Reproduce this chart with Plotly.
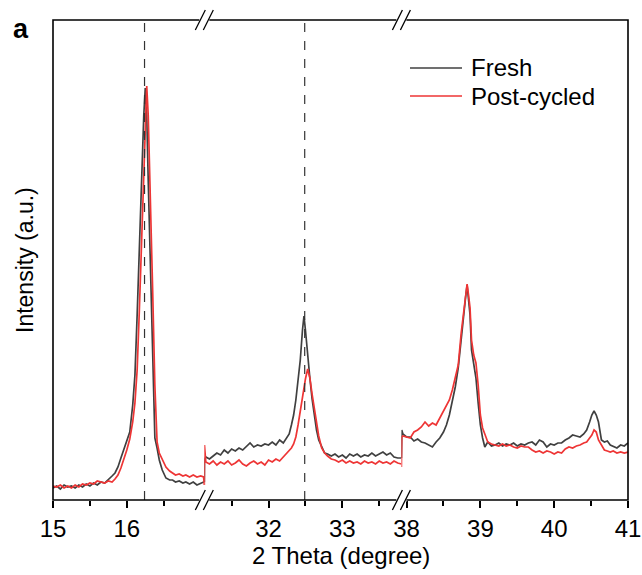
import plotly.graph_objects as go

# ---------------- data (intensity in a.u.) ----------------
X1 = [15.00, 15.05, 15.10, 15.15, 15.20, 15.25, 15.30, 15.35, 15.40, 15.45, 15.50, 15.55,
      15.60, 15.65, 15.70, 15.75, 15.80, 15.84, 15.88, 15.92, 15.96, 16.00, 16.04, 16.08,
      16.11, 16.14, 16.17, 16.20, 16.23, 16.25, 16.27, 16.29, 16.32, 16.35, 16.38, 16.41,
      16.44, 16.48, 16.53, 16.58, 16.62, 16.66, 16.71, 16.76, 16.80, 16.85, 16.90, 16.95,
      17.00, 17.04, 17.05]
FRESH_1 = [12, 14, 11, 15, 13, 14, 12, 15, 13, 16, 14, 17, 15, 18, 17, 21, 24,
           27, 33, 42, 50, 58, 68, 95,
           125, 185, 255, 320, 385, 412, 385, 320, 230, 130, 62, 52, 40,
           30, 22, 20, 20, 18, 19, 17, 18, 16, 18, 15, 17, 18, 18]
POST_1 = [14, 13, 15, 12, 14, 12, 15, 13, 16, 15, 17, 16, 19, 18, 17, 19, 18,
          21, 25, 32, 40, 50, 61, 78,
          97, 130, 190, 255, 330, 385, 414, 385, 305, 210, 115, 58, 47,
          40, 33, 29, 27, 25, 26, 24, 25, 23, 25, 23, 24, 23, 15]

X2 = [31.13, 31.132, 31.15, 31.20, 31.25, 31.30, 31.35, 31.40, 31.45, 31.50, 31.55, 31.60,
      31.65, 31.70, 31.75, 31.80, 31.85, 31.90, 31.95, 32.00, 32.05, 32.10, 32.15, 32.20,
      32.24, 32.28, 32.31, 32.34, 32.37, 32.40, 32.43, 32.46, 32.48, 32.50, 32.53, 32.56,
      32.59, 32.62, 32.65, 32.68, 32.72, 32.76, 32.80, 32.85, 32.90, 32.95, 33.00, 33.05,
      33.10, 33.15, 33.20, 33.25, 33.30, 33.35, 33.40, 33.45, 33.50, 33.55, 33.60, 33.65,
      33.70, 33.75, 33.80]
FRESH_2 = [18, 40, 43,
           41, 44, 47, 45, 50, 47, 51, 49, 52, 50, 54, 57, 53, 55, 54, 56, 55, 58, 55, 60, 57,
           62, 66, 75, 85, 100, 118, 140, 170, 184, 170, 143, 122, 101, 83, 70, 60, 53, 47, 46,
           44, 46, 43, 45, 42, 46, 44, 46, 43, 45, 44, 47, 44, 46, 48, 45, 47, 43, 42, 42]
POST_2 = [15, 55, 38,
          36, 39, 35, 38, 36, 39, 35, 37, 40, 36, 34, 37, 39, 36, 38, 35, 40, 38, 41, 39, 43,
          46, 49, 52, 56, 63, 75, 89, 104, 114, 121, 131, 122, 106, 93, 78, 64, 52, 47, 44,
          41, 40, 38, 40, 37, 39, 37, 38, 36, 39, 37, 38, 36, 39, 37, 38, 36, 39, 37, 36]

X3 = [37.93, 37.935, 37.95, 38.00, 38.05, 38.10, 38.15, 38.20, 38.25, 38.30, 38.35, 38.40,
      38.45, 38.50, 38.54, 38.58, 38.62, 38.66, 38.70, 38.74, 38.77, 38.80, 38.82, 38.84,
      38.86, 38.88, 38.91, 38.94, 38.97, 39.00, 39.03, 39.06, 39.10, 39.15, 39.20, 39.25,
      39.30, 39.35, 39.40, 39.45, 39.50, 39.55, 39.60, 39.65, 39.70, 39.75, 39.80, 39.85,
      39.90, 39.95, 40.00, 40.05, 40.10, 40.15, 40.20, 40.25, 40.30, 40.35, 40.40, 40.44,
      40.48, 40.51, 40.54, 40.57, 40.60, 40.64, 40.68, 40.72, 40.76, 40.80, 40.85, 40.90,
      40.95, 41.00]
FRESH_3 = [42, 70, 66,
           63, 63, 59, 61, 58, 57, 55, 53, 58, 62, 68,
           75, 85, 100, 113, 132, 163, 183, 203, 215, 203, 185, 150, 138, 122, 97, 75, 62, 53,
           58, 54, 55, 57, 54, 56, 55, 57, 54, 56, 55, 57, 58, 55, 60, 58, 53, 56, 55, 57, 57,
           60, 62, 65, 64, 63, 66,
           70, 78, 85, 89, 85, 78, 60, 58, 59, 55, 54, 52, 55, 54, 57]
POST_3 = [33, 63, 64,
          63, 62, 68, 70, 73, 78, 74, 77, 75, 82, 90,
          95, 100, 110, 122, 135, 167, 188, 205, 216, 205, 192, 160, 145, 137, 115, 85, 72, 66,
          58, 56, 55, 54, 56, 54, 55, 53, 52, 54, 53, 53, 50, 48, 49, 47, 49, 48, 46, 48, 47,
          51, 53, 52, 54, 55, 57,
          58, 62, 65, 70, 68, 60, 55, 50, 49, 48, 49, 47, 48, 47, 48]

SEGMENT_RANGES = [[15.0, 17.05], [31.13, 33.80], [37.93, 41.0]]
MAJOR_TICKS = [[15, 16], [32, 33], [38, 39, 40, 41]]
MINOR_TICKS = [[15.5, 16.5], [31.5, 32.5, 33.5], [38.5, 39.5, 40.5]]
REF_LINES = [16.24, 32.49]
SERIES_NAMES = ["Fresh", "Post-cycled"]
X_TITLE = "2 Theta (degree)"
Y_TITLE = "Intensity (a.u.)"
PANEL = "a"

# ---------------- style ----------------
W, H = 642, 575
ML, MR, MT, MB = 53, 14, 20, 75
PW, PH = W - ML - MR, H - MT - MB
GRAY = "#404040"
RED = "#ee3535"
FONT = "Arial, Liberation Sans, sans-serif"
FS = 24

def px(dx):
    return dx / PW

def py(dy):
    return dy / PH

spans = [r[1] - r[0] for r in SEGMENT_RANGES]
tot = sum(spans)
bounds = [0.0]
for s in spans:
    bounds.append(bounds[-1] + s / tot)
bounds[-1] = 1.0

fig = go.Figure()
xs = [X1, X2, X3]
fresh = [FRESH_1, FRESH_2, FRESH_3]
post = [POST_1, POST_2, POST_3]
axnames = ["x", "x2", "x3"]
for i in range(3):
    fig.add_trace(go.Scatter(x=xs[i], y=fresh[i], mode="lines", xaxis=axnames[i], yaxis="y",
                             line=dict(color=GRAY, width=1.7), name=SERIES_NAMES[0],
                             showlegend=False))
for i in range(3):
    fig.add_trace(go.Scatter(x=xs[i], y=post[i], mode="lines", xaxis=axnames[i], yaxis="y",
                             line=dict(color=RED, width=1.7), name=SERIES_NAMES[1],
                             showlegend=False))

def xaxis_cfg(i):
    return dict(domain=[bounds[i], bounds[i + 1]], range=SEGMENT_RANGES[i], anchor="y",
                showline=False, showgrid=False, zeroline=False,
                tickmode="array", tickvals=MAJOR_TICKS[i],
                ticktext=[str(v) for v in MAJOR_TICKS[i]],
                ticks="outside", ticklen=7, tickwidth=1.5, tickcolor="black",
                minor=dict(tickmode="array", tickvals=MINOR_TICKS[i], ticks="outside",
                           ticklen=5, tickwidth=1.5, tickcolor="black", showgrid=False),
                tickfont=dict(family=FONT, size=FS, color="black"))

fig.update_layout(
    width=W, height=H, margin=dict(l=ML, r=MR, t=MT, b=MB, autoexpand=False),
    paper_bgcolor="white", plot_bgcolor="white", showlegend=False,
    xaxis=xaxis_cfg(0), xaxis2=xaxis_cfg(1), xaxis3=xaxis_cfg(2),
    yaxis=dict(range=[0, 480], showticklabels=False, ticks="", showgrid=False,
               zeroline=False, showline=False),
)

shapes = []
for xv, ax in zip(REF_LINES, ["x", "x2"]):
    shapes.append(dict(type="line", xref=ax, yref="paper", x0=xv, x1=xv, y0=0, y1=1,
                       line=dict(color="#333333", width=1.2, dash="dash"), layer="above"))
shapes.append(dict(type="rect", xref="paper", yref="paper", x0=0, x1=1, y0=0, y1=1,
                   line=dict(color="black", width=1.6), layer="above"))
for b in bounds[1:-1]:
    for yv in (0, 1):
        shapes.append(dict(type="line", xref="paper", yref="paper",
                           x0=b - px(5), x1=b + px(5), y0=yv, y1=yv,
                           line=dict(color="white", width=4), layer="above"))
        for off in (-4, 4):
            shapes.append(dict(type="line", xref="paper", yref="paper",
                               x0=b + px(off - 5), x1=b + px(off + 5),
                               y0=yv - py(10), y1=yv + py(10),
                               line=dict(color="black", width=1.3), layer="above"))
leg_y = [1 - py(48), 1 - py(76)]
for yy, col in zip(leg_y, [GRAY, RED]):
    shapes.append(dict(type="line", xref="paper", yref="paper", x0=px(410 - ML),
                       x1=px(462 - ML), y0=yy, y1=yy, line=dict(color=col, width=1.7)))
fig.update_layout(shapes=shapes)

ann = []
for yy, name in zip(leg_y, SERIES_NAMES):
    ann.append(dict(xref="paper", yref="paper", x=px(469 - ML), y=yy, text=name,
                    showarrow=False, xanchor="left", yanchor="middle",
                    font=dict(family=FONT, size=FS, color="black")))
ann.append(dict(xref="paper", yref="paper", x=0.5, y=-py(55), text=X_TITLE, showarrow=False,
                xanchor="center", yanchor="middle", font=dict(family=FONT, size=FS, color="black")))
ann.append(dict(xref="paper", yref="paper", x=-px(28), y=0.5, text=Y_TITLE, showarrow=False,
                textangle=-90, xanchor="center", yanchor="middle",
                font=dict(family=FONT, size=23, color="black")))
ann.append(dict(xref="paper", yref="paper", x=-px(32), y=1 + py(-9), text="<b>" + PANEL + "</b>",
                showarrow=False, xanchor="center", yanchor="middle",
                font=dict(family=FONT, size=27, color="black")))
fig.update_layout(annotations=ann)

fig.write_html("out.html", config={"displayModeBar": False},
               post_script="document.body.style.margin='0';")
